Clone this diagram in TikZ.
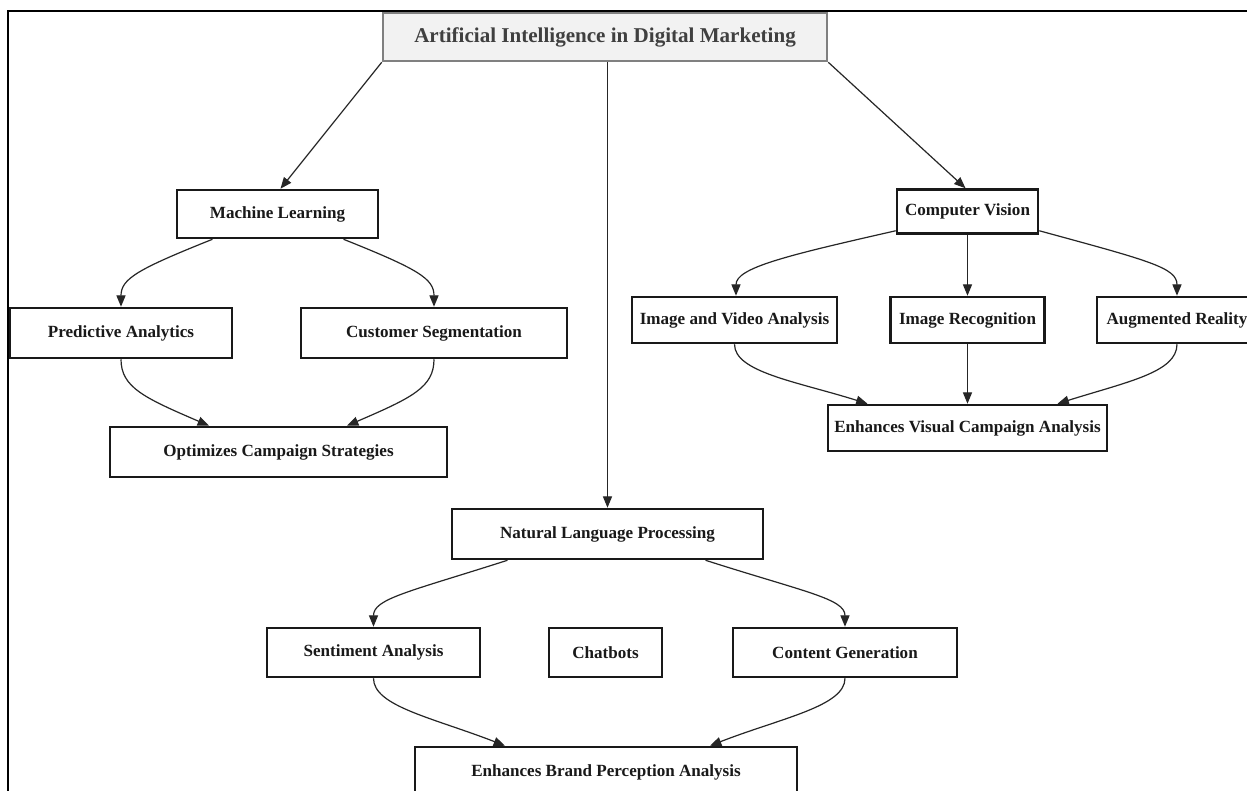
\documentclass[tikz,border=0pt]{standalone}
\usepackage{fontspec}
\setmainfont{Liberation Serif}
\usetikzlibrary{arrows.meta,calc}
\tikzset{
  box/.style={draw=black!90, line width=1.9pt, fill=white, inner sep=0pt,
    font=\fontsize{12.8pt}{15pt}\selectfont\bfseries, text=black!90},
  topbox/.style={draw=black!50, line width=1.9pt, fill=black!5, inner sep=0pt,
    font=\fontsize{15.8pt}{18pt}\selectfont\bfseries, text=black!75},
  wh/.style 2 args={minimum width=#1*0.75pt, minimum height=#2*0.75pt},
  arr/.style={draw=black!85, line width=0.9pt, -{Triangle[length=8.5pt,width=6.8pt]}},
  frame/.style={draw=black, line width=1.6pt}
}
\begin{document}
\begin{tikzpicture}[x=0.75pt,y=-0.75pt]
\fill[white] (0,0) rectangle (1247,791);
\useasboundingbox (0,0) rectangle (1247,791);
\draw[frame] (8,800) -- (8,11) -- (1260,11);

% nodes
\node[topbox, wh={444}{48}] (title) at (605,37) {Artificial Intelligence in Digital Marketing};
\node[box, wh={201}{48}] (ml) at (277.5,214) {Machine Learning};
\node[box, wh={222}{50}] (pa) at (121,333) {Predictive Analytics};
\node[box, wh={266}{50}] (cs) at (434,333) {Customer Segmentation};
\node[box, wh={337}{50}] (ocs) at (278.5,452) {Optimizes Campaign Strategies};
\node[box, wh={141}{44}] (cv) at (967.5,211.5) {Computer Vision};
\node[box, wh={205}{46}] (iva) at (734.5,320) {Image and Video Analysis};
\node[box, wh={154}{46}] (ir) at (967.5,320) {Image Recognition};
\node[box, wh={160}{46}] (ar) at (1177,320) {Augmented Reality};
\node[box, wh={279}{46}] (evca) at (967.5,428) {Enhances Visual Campaign Analysis};
\node[box, wh={311}{50}] (nlp) at (607.5,534) {Natural Language Processing};
\node[box, wh={213}{49}] (sa) at (373.5,652.5) {Sentiment Analysis};
\node[box, wh={113}{49}] (cb) at (605.5,652.5) {Chatbots};
\node[box, wh={224}{49}] (cg) at (845,652.5) {Content Generation};
\node[box, wh={382}{50}] (ebpa) at (606,772) {Enhances Brand Perception Analysis};

% connectors
\draw[arr] (title.south west) -- ($(ml.north)+(3,0)$);
\draw[arr] (title.south east) -- ($(cv.north)+(-2,0)$);
\draw[arr] (title.south -| nlp.north) -- (nlp.north);

\draw[arr] ($(ml.south)+(-65,0)$) .. controls +(-75,30) and +(0,-28) .. (pa.north);
\draw[arr] ($(ml.south)+(66,0)$) .. controls +(75,30) and +(0,-28) .. (cs.north);
\draw[arr] (pa.south) .. controls +(0,28) and +(-65,-28) .. ($(ocs.north)+(-69.5,0)$);
\draw[arr] (cs.south) .. controls +(0,28) and +(65,-28) .. ($(ocs.north)+(68.5,0)$);

\draw[arr] ($(cv.south west)+(0,-4)$) .. controls +(-110,25) and +(0,-28) .. ($(iva.north)+(1.5,0)$);
\draw[arr] (cv.south) -- (ir.north);
\draw[arr] ($(cv.south east)+(0,-4)$) .. controls +(110,30) and +(0,-28) .. (ar.north);
\draw[arr] (iva.south) .. controls +(0,28) and +(-70,-22) .. ($(evca.north)+(-100,0)$);
\draw[arr] (ir.south) -- (evca.north);
\draw[arr] (ar.south) .. controls +(0,28) and +(70,-22) .. ($(evca.north)+(90,0)$);

\draw[arr] ($(nlp.south)+(-100,0)$) .. controls +(-100,32) and +(0,-28) .. (sa.north);
\draw[arr] ($(nlp.south)+(98,0)$) .. controls +(100,32) and +(0,-28) .. (cg.north);
\draw[arr] (sa.south) .. controls +(0,28) and +(-72,-28) .. ($(ebpa.north)+(-101,0)$);
\draw[arr] (cg.south) .. controls +(0,28) and +(72,-28) .. ($(ebpa.north)+(104,0)$);
\end{tikzpicture}
\end{document}
